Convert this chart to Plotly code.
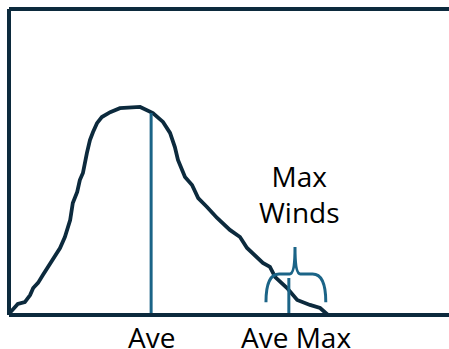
import plotly.graph_objects as go

# Wind-speed distribution (x: speed, y: relative frequency)
speed = [0.2, 2.0, 3.6, 4.8, 5.5, 6.6, 7.7, 8.9, 10.5, 11.6, 12.7, 13.4, 13.9, 14.5,
         15.5, 16.1, 16.8, 17.7, 18.4, 19.1, 20.0, 21.1, 23.0, 25.2, 28.2, 29.8,
         32.7, 35.0, 36.6, 37.7, 38.4, 40.0, 41.6, 43.0, 45.0, 47.3, 50.2, 52.5,
         54.1, 56.4, 57.7, 59.3, 60.5, 63.2, 65.5, 68.4, 70.7, 72.5]
freq = [0.7, 3.6, 4.2, 6.5, 8.8, 10.5, 13.1, 15.7, 19.0, 21.9, 25.5, 28.8, 31.0, 36.6,
        40.2, 44.1, 46.4, 52.9, 57.2, 59.8, 62.7, 64.7, 66.3, 67.6, 68.0, 68.0,
        66.0, 63.1, 59.5, 54.9, 50.7, 45.1, 42.5, 38.2, 35.3, 31.7, 27.8, 25.5,
        21.9, 19.0, 17.0, 15.7, 12.4, 8.8, 4.9, 3.3, 2.3, 0.0]

ave_speed = 32.3
ave_freq = 66.0
ave_max_speed = 63.6
ave_max_freq = 12.1

# Range of maximum winds (brace)
max_low, max_high = 58.4, 72.0
max_mid = 65.0
brace_bottom, brace_bar, brace_tip = 4.2, 13.4, 22.2

labels = ["Ave", "Ave Max"]
label_x = [ave_speed, ave_max_speed]
label_shift = [0, 7]

DARK = "#0c2a3d"
TEAL = "#1b6487"
FONT = "Open Sans"

fig = go.Figure()

fig.add_trace(go.Scatter(x=speed, y=freq, mode="lines",
                         line=dict(color=DARK, width=3.8), hoverinfo="skip"))
fig.add_trace(go.Scatter(x=[ave_speed, ave_speed], y=[0, ave_freq], mode="lines",
                         line=dict(color=TEAL, width=3), hoverinfo="skip"))
fig.add_trace(go.Scatter(x=[ave_max_speed, ave_max_speed], y=[0, ave_max_freq], mode="lines",
                         line=dict(color=TEAL, width=3), hoverinfo="skip"))

# curly brace spanning the max-wind range
r = 3.0
brace = (f"M {max_low},{brace_bottom} "
         f"Q {max_low},{brace_bar} {max_low + r},{brace_bar} "
         f"L {max_mid - 1.2},{brace_bar} "
         f"Q {max_mid},{brace_bar} {max_mid},{brace_tip} "
         f"Q {max_mid},{brace_bar} {max_mid + 1.2},{brace_bar} "
         f"L {max_high - r},{brace_bar} "
         f"Q {max_high},{brace_bar} {max_high},{brace_bottom}")
fig.add_shape(type="path", path=brace, xref="x", yref="y",
              line=dict(color=TEAL, width=3))

# frame: left, top and bottom edges
for x0, y0, x1, y1 in [(0, 0, 0, 1), (0, 1, 1, 1), (0, 0, 1, 0)]:
    fig.add_shape(type="line", xref="paper", yref="paper", x0=x0, y0=y0, x1=x1, y1=y1,
                  line=dict(color=DARK, width=4))

fig.add_annotation(x=66.1, y=39.6, xref="x", yref="y", text="Max<br>Winds",
                   showarrow=False, font=dict(family=FONT, size=28, color="#000000"),
                   align="center")

for t, xv, dx in zip(labels, label_x, label_shift):
    fig.add_annotation(x=xv, y=0, xref="x", yref="paper", text=t, showarrow=False,
                       yanchor="top", yshift=-1, xshift=dx,
                       font=dict(family=FONT, size=28, color="#000000"))

fig.update_layout(
    width=449, height=349,
    margin=dict(l=9, r=0, t=9, b=34),
    paper_bgcolor="white", plot_bgcolor="white",
    showlegend=False,
    xaxis=dict(range=[0, 100], visible=False, fixedrange=True),
    yaxis=dict(range=[0, 100], visible=False, fixedrange=True),
)

fig.write_html("out.html")
